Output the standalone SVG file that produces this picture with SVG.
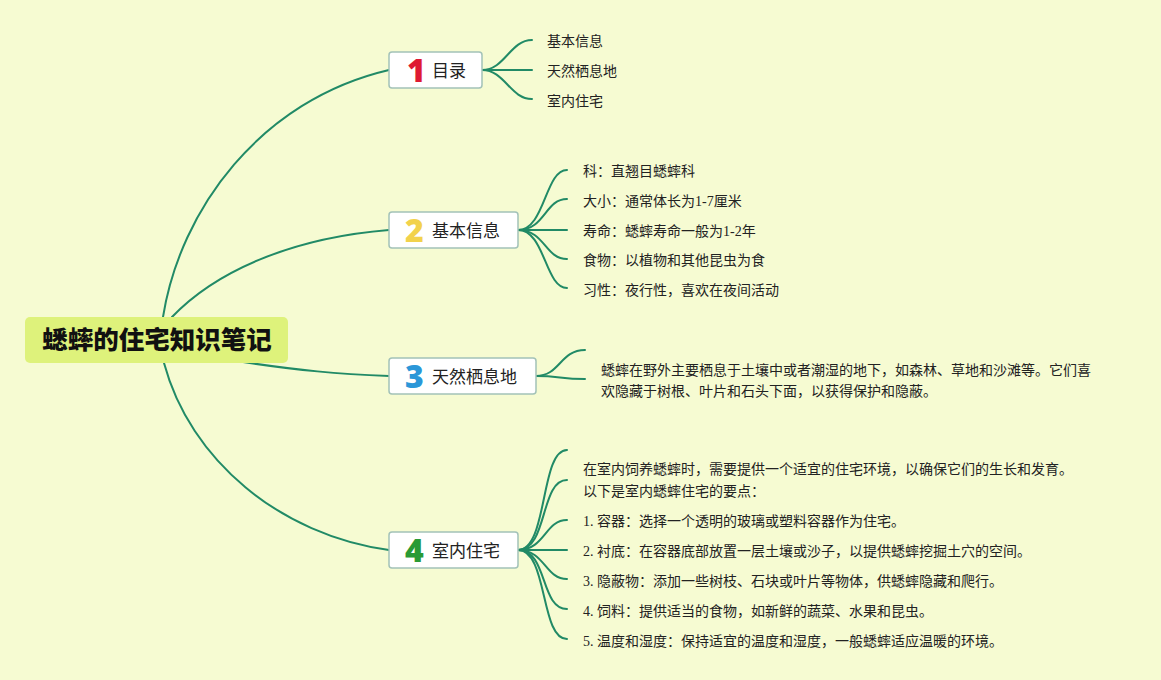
<svg xmlns="http://www.w3.org/2000/svg" width="1161" height="680" viewBox="0 0 1161 680">
<style>
.bg{fill:#f6fbd2}
.line{fill:none;stroke:#218a66;stroke-width:2;stroke-linecap:round}
.box{fill:#ffffff;stroke:#a3c2b8;stroke-width:1.5}
.root{fill:#def27b}
.rt{font-family:"Noto Sans CJK SC",sans-serif;font-weight:900;font-size:25.5px;fill:#111}
.num{font-family:"Noto Sans","DejaVu Sans",sans-serif;font-weight:900;font-size:32px}
.bt{font-family:"Noto Sans CJK SC",sans-serif;font-size:17px;fill:#222}
.lt{font-family:"Liberation Serif","Noto Sans CJK SC",serif;font-size:14px;fill:#222}
</style>
<rect class="bg" x="0" y="0" width="1161" height="680"/>
<g id="connectors">
<path class="line" d="M163,317 C180,210 260,100 389,70"/>
<path class="line" d="M172,317 C215,272 290,238 389,230"/>
<path class="line" d="M230,360 C300,371 340,374 389,376"/>
<path class="line" d="M164,363 C190,460 280,535 389,550"/>
<path class="line" d="M482,70 C505,70 510,40 532,40"/>
<path class="line" d="M482,70 L532,70"/>
<path class="line" d="M482,70 C505,70 510,99 532,99"/>
<path class="line" d="M518,230 C545,230 545,170 567,170"/>
<path class="line" d="M518,230 C545,230 545,199 567,199"/>
<path class="line" d="M518,230 L567,230"/>
<path class="line" d="M518,230 C545,230 545,259 567,259"/>
<path class="line" d="M518,230 C545,230 545,288 567,288"/>
<path class="line" d="M536,376 C560,376 560,350 585,350"/>
<path class="line" d="M536,376 C560,376 560,379 585,379"/>
<path class="line" d="M518,550 C548,550 540,450 567,450"/>
<path class="line" d="M518,550 C548,550 540,480 567,480"/>
<path class="line" d="M518,550 C545,550 545,520 567,520"/>
<path class="line" d="M518,550 L567,550"/>
<path class="line" d="M518,550 C545,550 545,579 567,579"/>
<path class="line" d="M518,550 C548,550 540,609 567,609"/>
<path class="line" d="M518,550 C548,550 540,639 567,639"/>
</g>
<g id="root">
<rect class="root" x="25" y="317" width="263" height="46" rx="5"/>
<text class="rt" x="157" y="349" text-anchor="middle">蟋蟀的住宅知识笔记</text>
</g>
<g id="b1">
<rect class="box" x="389" y="52" width="93" height="36" rx="3"/>
<text class="num" x="407" y="82" fill="#de1a32">1</text>
<text class="bt" x="432" y="77">目录</text>
</g>
<g id="b2">
<rect class="box" x="389" y="212" width="129" height="36" rx="3"/>
<text class="num" x="405" y="242" fill="#f2d24c">2</text>
<text class="bt" x="432" y="237">基本信息</text>
</g>
<g id="b3">
<rect class="box" x="389" y="358" width="147" height="36" rx="3"/>
<text class="num" x="405" y="388" fill="#2b97d8">3</text>
<text class="bt" x="432" y="383">天然栖息地</text>
</g>
<g id="b4">
<rect class="box" x="389" y="532" width="129" height="36" rx="3"/>
<text class="num" x="405" y="562" fill="#2a9a35">4</text>
<text class="bt" x="432" y="557">室内住宅</text>
</g>
<g id="l1">
<text class="lt" x="547" y="46">基本信息</text>
<text class="lt" x="547" y="76">天然栖息地</text>
<text class="lt" x="547" y="106">室内住宅</text>
</g>
<g id="l2">
<text class="lt" x="583" y="176">科：直翘目蟋蟀科</text>
<text class="lt" x="583" y="206">大小：通常体长为1-7厘米</text>
<text class="lt" x="583" y="236">寿命：蟋蟀寿命一般为1-2年</text>
<text class="lt" x="583" y="265">食物：以植物和其他昆虫为食</text>
<text class="lt" x="583" y="295">习性：夜行性，喜欢在夜间活动</text>
</g>
<g id="l3">
<text class="lt" x="601" y="375">蟋蟀在野外主要栖息于土壤中或者潮湿的地下，如森林、草地和沙滩等。它们喜</text>
<text class="lt" x="601" y="396">欢隐藏于树根、叶片和石头下面，以获得保护和隐蔽。</text>
</g>
<g id="l4">
<text class="lt" x="583" y="474">在室内饲养蟋蟀时，需要提供一个适宜的住宅环境，以确保它们的生长和发育。</text>
<text class="lt" x="583" y="496">以下是室内蟋蟀住宅的要点：</text>
<text class="lt" x="583" y="526">1. 容器：选择一个透明的玻璃或塑料容器作为住宅。</text>
<text class="lt" x="583" y="556">2. 衬底：在容器底部放置一层土壤或沙子，以提供蟋蟀挖掘土穴的空间。</text>
<text class="lt" x="583" y="586">3. 隐蔽物：添加一些树枝、石块或叶片等物体，供蟋蟀隐藏和爬行。</text>
<text class="lt" x="583" y="616">4. 饲料：提供适当的食物，如新鲜的蔬菜、水果和昆虫。</text>
<text class="lt" x="583" y="646">5. 温度和湿度：保持适宜的温度和湿度，一般蟋蟀适应温暖的环境。</text>
</g>
</svg>
